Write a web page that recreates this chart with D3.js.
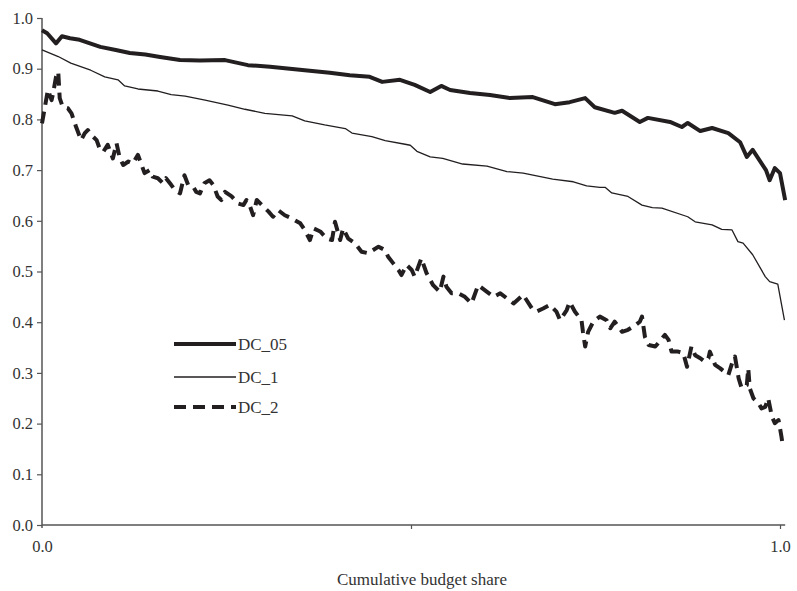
<!DOCTYPE html>
<html>
<head>
<meta charset="utf-8">
<script src="https://cdn.jsdelivr.net/npm/d3@7/dist/d3.min.js"></script>
<style>
  html, body { margin: 0; padding: 0; background: #fff; }
  svg { display: block; }
  svg text { font-family: "Liberation Serif", "Times New Roman", Times, serif !important; fill: #333; }
</style>
</head>
<body>
<svg id="chart" width="797" height="591" font-family="Liberation Serif, serif"></svg>
<script>
// ---- Data: [cumulative budget share, value] ----
const dc05 = [
  [0.000,0.976],[0.007,0.970],[0.019,0.950],[0.027,0.964],[0.038,0.960],[0.051,0.957],
  [0.079,0.943],[0.100,0.937],[0.119,0.931],[0.140,0.928],[0.160,0.923],[0.187,0.917],
  [0.214,0.916],[0.248,0.917],[0.279,0.907],[0.309,0.904],[0.356,0.897],[0.390,0.892],
  [0.417,0.887],[0.444,0.884],[0.461,0.874],[0.485,0.878],[0.505,0.868],[0.526,0.854],
  [0.541,0.866],[0.553,0.858],[0.580,0.852],[0.607,0.848],[0.634,0.842],[0.665,0.844],
  [0.695,0.830],[0.715,0.834],[0.736,0.842],[0.749,0.824],[0.776,0.813],[0.786,0.817],
  [0.810,0.795],[0.821,0.803],[0.851,0.795],[0.867,0.785],[0.875,0.793],[0.892,0.777],
  [0.908,0.783],[0.930,0.773],[0.946,0.755],[0.955,0.726],[0.963,0.740],[0.981,0.700],
  [0.986,0.680],[0.993,0.704],[1.000,0.694],[1.007,0.641]
];
const dc1 = [
  [0.000,0.937],[0.022,0.924],[0.039,0.911],[0.066,0.897],[0.085,0.884],[0.103,0.878],
  [0.112,0.866],[0.130,0.860],[0.157,0.856],[0.175,0.849],[0.194,0.846],[0.221,0.838],
  [0.252,0.828],[0.275,0.820],[0.302,0.812],[0.339,0.807],[0.356,0.797],[0.383,0.789],
  [0.411,0.782],[0.420,0.773],[0.447,0.766],[0.465,0.758],[0.492,0.751],[0.499,0.749],
  [0.508,0.737],[0.526,0.726],[0.543,0.723],[0.570,0.712],[0.603,0.708],[0.630,0.697],
  [0.652,0.694],[0.692,0.682],[0.720,0.677],[0.738,0.669],[0.756,0.666],[0.763,0.666],
  [0.772,0.655],[0.794,0.648],[0.813,0.631],[0.827,0.626],[0.840,0.625],[0.875,0.608],
  [0.885,0.598],[0.908,0.592],[0.921,0.583],[0.935,0.582],[0.943,0.559],[0.950,0.556],
  [0.963,0.533],[0.980,0.490],[0.986,0.480],[0.997,0.475],[1.006,0.404]
];
const dc2 = [
  [0.000,0.792],[0.004,0.825],[0.008,0.858],[0.013,0.838],[0.015,0.851],[0.019,0.884],
  [0.022,0.894],[0.024,0.842],[0.028,0.825],[0.035,0.822],[0.040,0.812],[0.046,0.786],
  [0.053,0.759],[0.058,0.773],[0.062,0.779],[0.067,0.769],[0.074,0.759],[0.078,0.743],
  [0.083,0.736],[0.089,0.750],[0.096,0.723],[0.101,0.753],[0.105,0.726],[0.110,0.710],
  [0.117,0.717],[0.123,0.713],[0.130,0.730],[0.135,0.710],[0.139,0.694],[0.146,0.700],
  [0.150,0.687],[0.157,0.684],[0.164,0.674],[0.168,0.684],[0.175,0.671],[0.180,0.661],
  [0.187,0.654],[0.193,0.690],[0.198,0.671],[0.205,0.667],[0.209,0.657],[0.214,0.654],
  [0.220,0.674],[0.227,0.680],[0.232,0.671],[0.238,0.648],[0.243,0.641],[0.248,0.657],
  [0.257,0.648],[0.266,0.634],[0.273,0.631],[0.277,0.641],[0.282,0.628],[0.286,0.611],
  [0.291,0.641],[0.298,0.631],[0.307,0.618],[0.313,0.608],[0.320,0.621],[0.329,0.611],
  [0.338,0.605],[0.350,0.595],[0.356,0.582],[0.363,0.562],[0.368,0.585],[0.377,0.579],
  [0.386,0.565],[0.393,0.562],[0.397,0.598],[0.404,0.562],[0.408,0.585],[0.415,0.565],
  [0.424,0.556],[0.433,0.539],[0.442,0.536],[0.456,0.549],[0.465,0.542],[0.469,0.529],
  [0.476,0.516],[0.483,0.503],[0.487,0.493],[0.494,0.513],[0.501,0.503],[0.505,0.490],
  [0.514,0.526],[0.521,0.497],[0.530,0.473],[0.539,0.460],[0.544,0.490],[0.548,0.470],
  [0.555,0.457],[0.564,0.457],[0.573,0.450],[0.582,0.437],[0.591,0.473],[0.603,0.460],
  [0.612,0.450],[0.621,0.457],[0.630,0.447],[0.639,0.437],[0.652,0.454],[0.664,0.427],
  [0.670,0.421],[0.679,0.427],[0.688,0.434],[0.697,0.421],[0.702,0.404],[0.711,0.424],
  [0.715,0.440],[0.722,0.421],[0.731,0.404],[0.733,0.381],[0.736,0.352],[0.740,0.381],
  [0.747,0.401],[0.756,0.411],[0.765,0.404],[0.770,0.388],[0.776,0.401],[0.781,0.391],
  [0.786,0.381],[0.794,0.385],[0.804,0.394],[0.810,0.401],[0.813,0.411],[0.817,0.371],
  [0.822,0.355],[0.831,0.352],[0.837,0.362],[0.844,0.375],[0.849,0.365],[0.853,0.342],
  [0.862,0.342],[0.869,0.339],[0.874,0.312],[0.880,0.352],[0.885,0.335],[0.892,0.329],
  [0.898,0.322],[0.903,0.329],[0.905,0.342],[0.912,0.316],[0.919,0.309],[0.925,0.302],
  [0.930,0.296],[0.935,0.319],[0.939,0.332],[0.944,0.289],[0.948,0.270],[0.955,0.276],
  [0.957,0.309],[0.959,0.270],[0.964,0.250],[0.971,0.240],[0.975,0.230],[0.980,0.233],
  [0.984,0.250],[0.989,0.214],[0.993,0.201],[0.998,0.207],[1.000,0.191],[1.002,0.174],
  [1.004,0.154]
];
const seriesNames = ["DC_05", "DC_1", "DC_2"];
const yTicks = [0.0,0.1,0.2,0.3,0.4,0.5,0.6,0.7,0.8,0.9,1.0];
const xTicks = [0.0, 0.5, 1.0];
const xTickLabels = ["0.0", "", "1.0"];
const xTitle = "Cumulative budget share";

// ---- Layout ----
const svg = d3.select("#chart");
const mLeft = 42, mRight = 780, mTop = 18, mBottom = 525;
const x = d3.scaleLinear().domain([0, 1]).range([mLeft, mRight]);
const y = d3.scaleLinear().domain([0, 1]).range([mBottom, mTop]);
const axisColor = "#555";
const lineColor = "#231f20";
const tickFont = "16.5px";

// Y axis
const yAxis = svg.append("g").attr("transform", `translate(${mLeft},0)`)
  .call(d3.axisLeft(y).tickValues(yTicks).tickFormat(d3.format(".1f")).tickSize(5).tickPadding(4));
yAxis.attr("font-family", null).attr("font-size", null);
yAxis.select(".domain").attr("d", `M0,${mTop}V${mBottom + 3}`).attr("stroke", axisColor).attr("stroke-width", 1.5);
yAxis.selectAll(".tick line").attr("stroke", axisColor).attr("stroke-width", 1.2);
yAxis.selectAll(".tick text").style("font-size", tickFont).attr("fill", "#333");

// X axis
const xAxis = svg.append("g").attr("transform", `translate(0,${mBottom})`)
  .call(d3.axisBottom(x).tickValues(xTicks).tickFormat((d, i) => xTickLabels[i]).tickSize(4).tickPadding(11));
xAxis.attr("font-family", null).attr("font-size", null);
xAxis.select(".domain").attr("d", `M${mLeft},0H${x(1.007)}`).attr("stroke", axisColor).attr("stroke-width", 1.5);
xAxis.selectAll(".tick line").attr("stroke", axisColor).attr("stroke-width", 1.2);
xAxis.selectAll(".tick").filter(d => d === 0).select("line").remove();
xAxis.selectAll(".tick text").style("font-size", tickFont).attr("fill", "#333");

// X title
svg.append("text").attr("x", 422).attr("y", 585).attr("text-anchor", "middle")
  .style("font-size", "17px").text(xTitle);

// Lines
const line = d3.line().x(d => x(d[0])).y(d => y(d[1]));
const styles = [
  { data: dc05, width: 4, dash: null },
  { data: dc1, width: 1.3, dash: null },
  { data: dc2, width: 4, dash: "12,7" }
];
styles.forEach(s => {
  svg.append("path").datum(s.data).attr("d", line)
    .attr("fill", "none").attr("stroke", lineColor).attr("stroke-width", s.width)
    .attr("stroke-linejoin", "round").attr("stroke-dasharray", s.dash);
});

// Legend
const legY = [344, 377, 407];
styles.forEach((s, i) => {
  svg.append("line").attr("x1", 174).attr("x2", 236).attr("y1", legY[i]).attr("y2", legY[i])
    .attr("stroke", lineColor).attr("stroke-width", s.width).attr("stroke-dasharray", s.dash);
  svg.append("text").attr("x", 238).attr("y", legY[i] + 6).style("font-size", "17px").text(seriesNames[i]);
});
</script>
</body>
</html>
